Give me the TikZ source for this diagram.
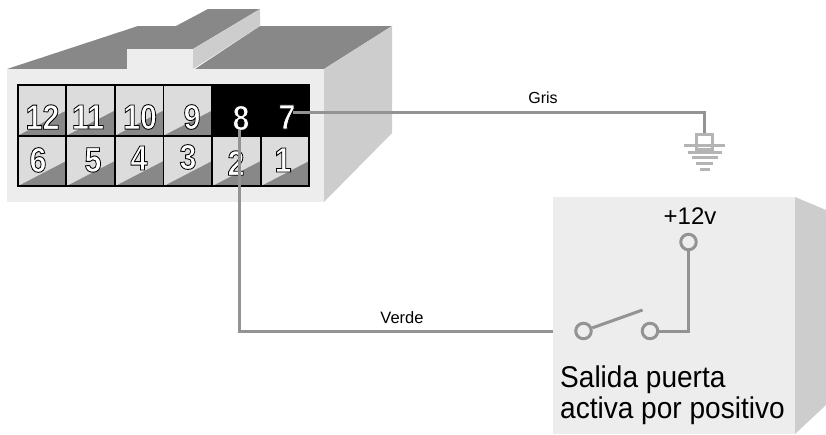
\documentclass[tikz,border=0pt]{standalone}
\usepackage{fontspec}
\setmainfont{Liberation Sans}
\usetikzlibrary{positioning}
\definecolor{bodygray}{HTML}{EDEDED}
\definecolor{sidegray}{HTML}{CDCDCD}
\definecolor{topgray}{HTML}{888888}
\definecolor{cellgray}{HTML}{DCDCDC}
\definecolor{wiregray}{HTML}{939393}
\definecolor{earthgray}{HTML}{B4B4B4}
\newcommand{\outlined}[1]{\special{pdf:code 2 Tr 0.9 w 0 G 1 g}#1\special{pdf:code 0 Tr 0 g}}
\tikzset{
    cell/.style={draw=black, line width=1.7pt, fill=cellgray, minimum width=48.6pt, minimum height=50.5pt, inner sep=0pt, outer sep=0pt,
        path picture={\fill[topgray] (path picture bounding box.south west) -- (path picture bounding box.east) -- (path picture bounding box.south east) -- cycle;}},
    darkcell/.style={draw=black, line width=1.7pt, fill=black, minimum width=48.6pt, minimum height=50.5pt, inner sep=0pt, outer sep=0pt},
    num/.style={inner sep=0pt, xscale=0.87, transform shape, font=\fontsize{35}{35}\selectfont\bfseries},
    wire/.style={draw=wiregray, line width=3pt},
    terminal/.style={circle, draw=wiregray, line width=3pt, fill=bodygray, minimum size=15.5pt, inner sep=0pt},
    earth/.style={draw=earthgray, line width=3pt}
}
\begin{document}
\begin{tikzpicture}[x=1pt, y=-1pt]
    \useasboundingbox (0,0) rectangle (826,434);
    \fill[topgray] (7,69) -- (138,26) -- (176,26) -- (208,9) -- (260,9) -- (193,49) -- (127,49) -- (127,69) -- cycle;
    \fill[topgray] (195,69) -- (260,26) -- (392,26) -- (324,69) -- cycle;
    \fill[sidegray] (193,49) -- (260,9) -- (260,26) -- (193,69) -- cycle;
    \fill[bodygray] (127,49) rectangle (193,69);
    \node (front) [fill=bodygray, minimum width=317pt, minimum height=133pt, inner sep=0pt, outer sep=0pt] at (165.5,135.5) { };
    \fill[sidegray] (front.north east) -- (392,26) -- (392,133) -- (front.south east) -- cycle;
    \node (c12) [cell] at (42,110.5) { };
    \node (c11) [cell, right=0pt of c12] { };
    \node (c10) [cell, right=0pt of c11] { };
    \node (c9) [cell, right=0pt of c10] { };
    \node (c8) [darkcell, right=0pt of c9] { };
    \node (c7) [darkcell, right=0pt of c8] { };
    \node (c6) [cell, below=0pt of c12] { };
    \node (c5) [cell, right=0pt of c6] { };
    \node (c4) [cell, right=0pt of c5] { };
    \node (c3) [cell, right=0pt of c4] { };
    \node (c2) [cell, right=0pt of c3] { };
    \node (c1) [cell, right=0pt of c2] { };
    \node (n12) [num] at (42.5,117) {\outlined{12}};
    \node (n11) [num] at (88,117) {\outlined{11}};
    \node (n10) [num] at (140,117) {\outlined{10}};
    \node (n9) [num] at (192,117) {\outlined{9}};
    \node (n8) [num] at (241,118) {\outlined{8}};
    \node (n7) [num] at (287,117) {\outlined{7}};
    \node (n6) [num] at (38,160) {\outlined{6}};
    \node (n5) [num] at (93,160) {\outlined{5}};
    \node (n4) [num] at (139,158) {\outlined{4}};
    \node (n3) [num] at (188,157) {\outlined{3}};
    \node (n2) [num] at (236,163) {\outlined{2}};
    \node (n1) [num] at (283,160) {\outlined{1}};
    \node (box) [fill=bodygray, minimum width=242pt, minimum height=237pt, inner sep=0pt, outer sep=0pt] at (674,315.5) { };
    \fill[sidegray] (box.north east) -- (826,210) -- (826,405) -- (box.south east) -- cycle;
    \node (gnd) [draw=earthgray, line width=3pt, minimum width=16pt, minimum height=15pt, inner sep=0pt] at (704.5,141.5) { };
    \node (tup) [terminal] at (688.5,242) { };
    \node (tright) [terminal] at (650,331) { };
    \node (tleft) [terminal] at (583.5,331) { };
    \coordinate (start7) at (293,112.5);
    \coordinate (start8) at (239,130);
    \coordinate (armend) at (642.5,310);
    \draw[earth] (684,145) -- (725,145);
    \draw[earth] (687.5,152) -- (722,152);
    \draw[earth] (691.5,157.5) -- (717.5,157.5);
    \draw[earth] (696,163) -- (713,163);
    \draw[earth] (699.5,169) -- (710,169);
    \draw[wire] (start7) -| (gnd.north);
    \draw[wire] (start8) |- (tleft -| box.west);
    \draw[wire] (tleft) -- (armend);
    \draw[wire] (tright) -| (tup);
    \node (gris) [font=\fontsize{16}{16}\selectfont] at (543,98) {Gris};
    \node (verde) [font=\fontsize{16.5}{16.5}\selectfont] at (402,318) {Verde};
    \node (volt) [font=\fontsize{24}{24}\selectfont] at (690,216) {+12v};
    \node (salida) [anchor=north west, align=left, inner sep=0pt, xscale=0.935, transform shape, font=\fontsize{30}{31}\selectfont] at (560,366) {Salida puerta\\activa por positivo};
\end{tikzpicture}
\end{document}
